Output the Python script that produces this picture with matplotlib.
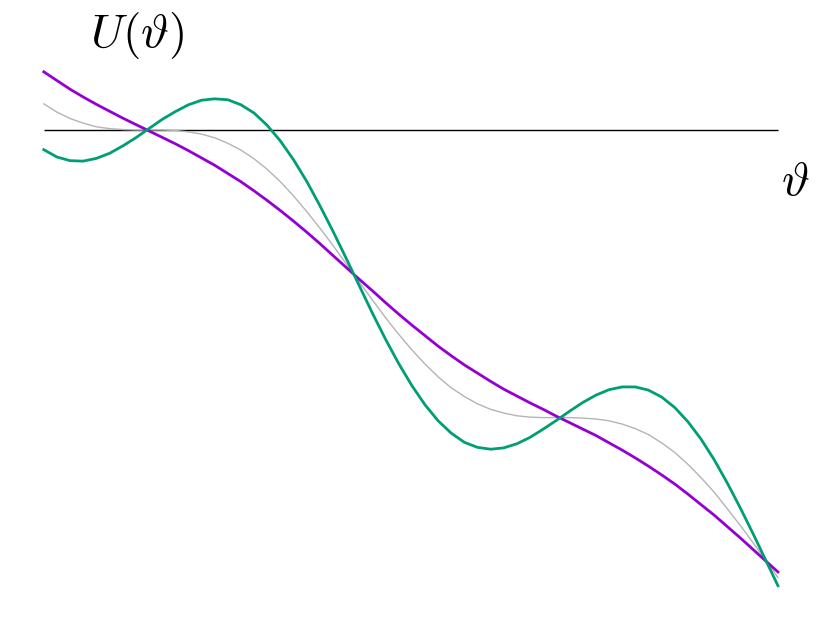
import matplotlib
matplotlib.use("Agg")
import matplotlib.pyplot as plt

plt.rcParams['mathtext.fontset'] = 'cm'

# theta values (rad) and U(theta)
theta = [0.0, 0.2, 0.4, 0.6, 0.8, 1.0, 1.2, 1.4, 1.6, 1.8,
         2.0, 2.2, 2.4, 2.6, 2.8, 3.0, 3.2, 3.4, 3.6, 3.8,
         4.0, 4.2, 4.4, 4.6, 4.8, 5.0, 5.2, 5.4, 5.6, 5.8,
         6.0, 6.2, 6.4, 6.6, 6.8, 7.0, 7.2, 7.4, 7.6, 7.8,
         8.0, 8.2, 8.4, 8.6, 8.8, 9.0, 9.2, 9.4, 9.6, 9.8,
         10.0, 10.2, 10.4, 10.6, 10.8, 11.0, 11.17]

# critical tilt (grey)
u_crit = [0.57, 0.39, 0.25, 0.15, 0.07, 0.03, 0.01, 0.00, 0.00, 0.00,
          -0.01, -0.04, -0.09, -0.17, -0.29, -0.44, -0.63, -0.86, -1.13, -1.44,
          -1.78, -2.14, -2.52, -2.92, -3.32, -3.71, -4.10, -4.46, -4.80, -5.11,
          -5.39, -5.63, -5.82, -5.98, -6.10, -6.18, -6.24, -6.27, -6.28, -6.28,
          -6.28, -6.29, -6.31, -6.35, -6.42, -6.52, -6.65, -6.83, -7.04, -7.30,
          -7.59, -7.91, -8.27, -8.64, -9.03, -9.43, -9.77]

# washboard with wells (green)
u_green = [-0.43, -0.59, -0.67, -0.68, -0.62, -0.51, -0.35, -0.17, 0.03, 0.23,
           0.40, 0.55, 0.65, 0.68, 0.66, 0.55, 0.37, 0.10, -0.24, -0.65,
           -1.12, -1.65, -2.21, -2.80, -3.40, -4.00, -4.57, -5.10, -5.58, -6.00,
           -6.35, -6.62, -6.82, -6.93, -6.97, -6.94, -6.85, -6.71, -6.53, -6.34,
           -6.14, -5.95, -5.79, -5.67, -5.61, -5.61, -5.68, -5.83, -6.06, -6.37,
           -6.75, -7.20, -7.71, -8.26, -8.84, -9.44, -9.95]

# no wells (purple)
u_purple = [1.27, 1.08, 0.89, 0.72, 0.56, 0.41, 0.26, 0.12, -0.02, -0.16,
            -0.30, -0.45, -0.61, -0.77, -0.95, -1.13, -1.33, -1.54, -1.76, -1.99,
            -2.23, -2.48, -2.74, -3.00, -3.26, -3.51, -3.77, -4.02, -4.26, -4.49,
            -4.72, -4.93, -5.13, -5.31, -5.49, -5.66, -5.81, -5.96, -6.10, -6.25,
            -6.39, -6.53, -6.67, -6.83, -6.99, -7.16, -7.34, -7.53, -7.73, -7.95,
            -8.18, -8.41, -8.66, -8.91, -9.17, -9.43, -9.65]

fig = plt.figure(figsize=(8.31, 6.18), dpi=100)
ax = fig.add_axes([0, 0, 1, 1])

ax.hlines(0, theta[0], theta[-1], color='black', lw=1.0, zorder=1)
ax.plot(theta, u_crit, color='#b4b4b4', lw=1.0, zorder=2)
ax.plot(theta, u_purple, color='#9400d3', lw=2.0, zorder=3, solid_joinstyle='round')
ax.plot(theta, u_green, color='#009e73', lw=2.0, zorder=4, solid_joinstyle='round')

ax.text(1.42, 2.07, r'$U(\vartheta)$', fontsize=34, ha='center', va='center')
ax.text(11.43, -1.15, r'$\vartheta$', fontsize=34, ha='center', va='center')

ax.set_xlim(-0.666, 11.977)
ax.set_ylim(-10.655, 2.838)
ax.axis('off')

fig.savefig('out.png', dpi=100)
